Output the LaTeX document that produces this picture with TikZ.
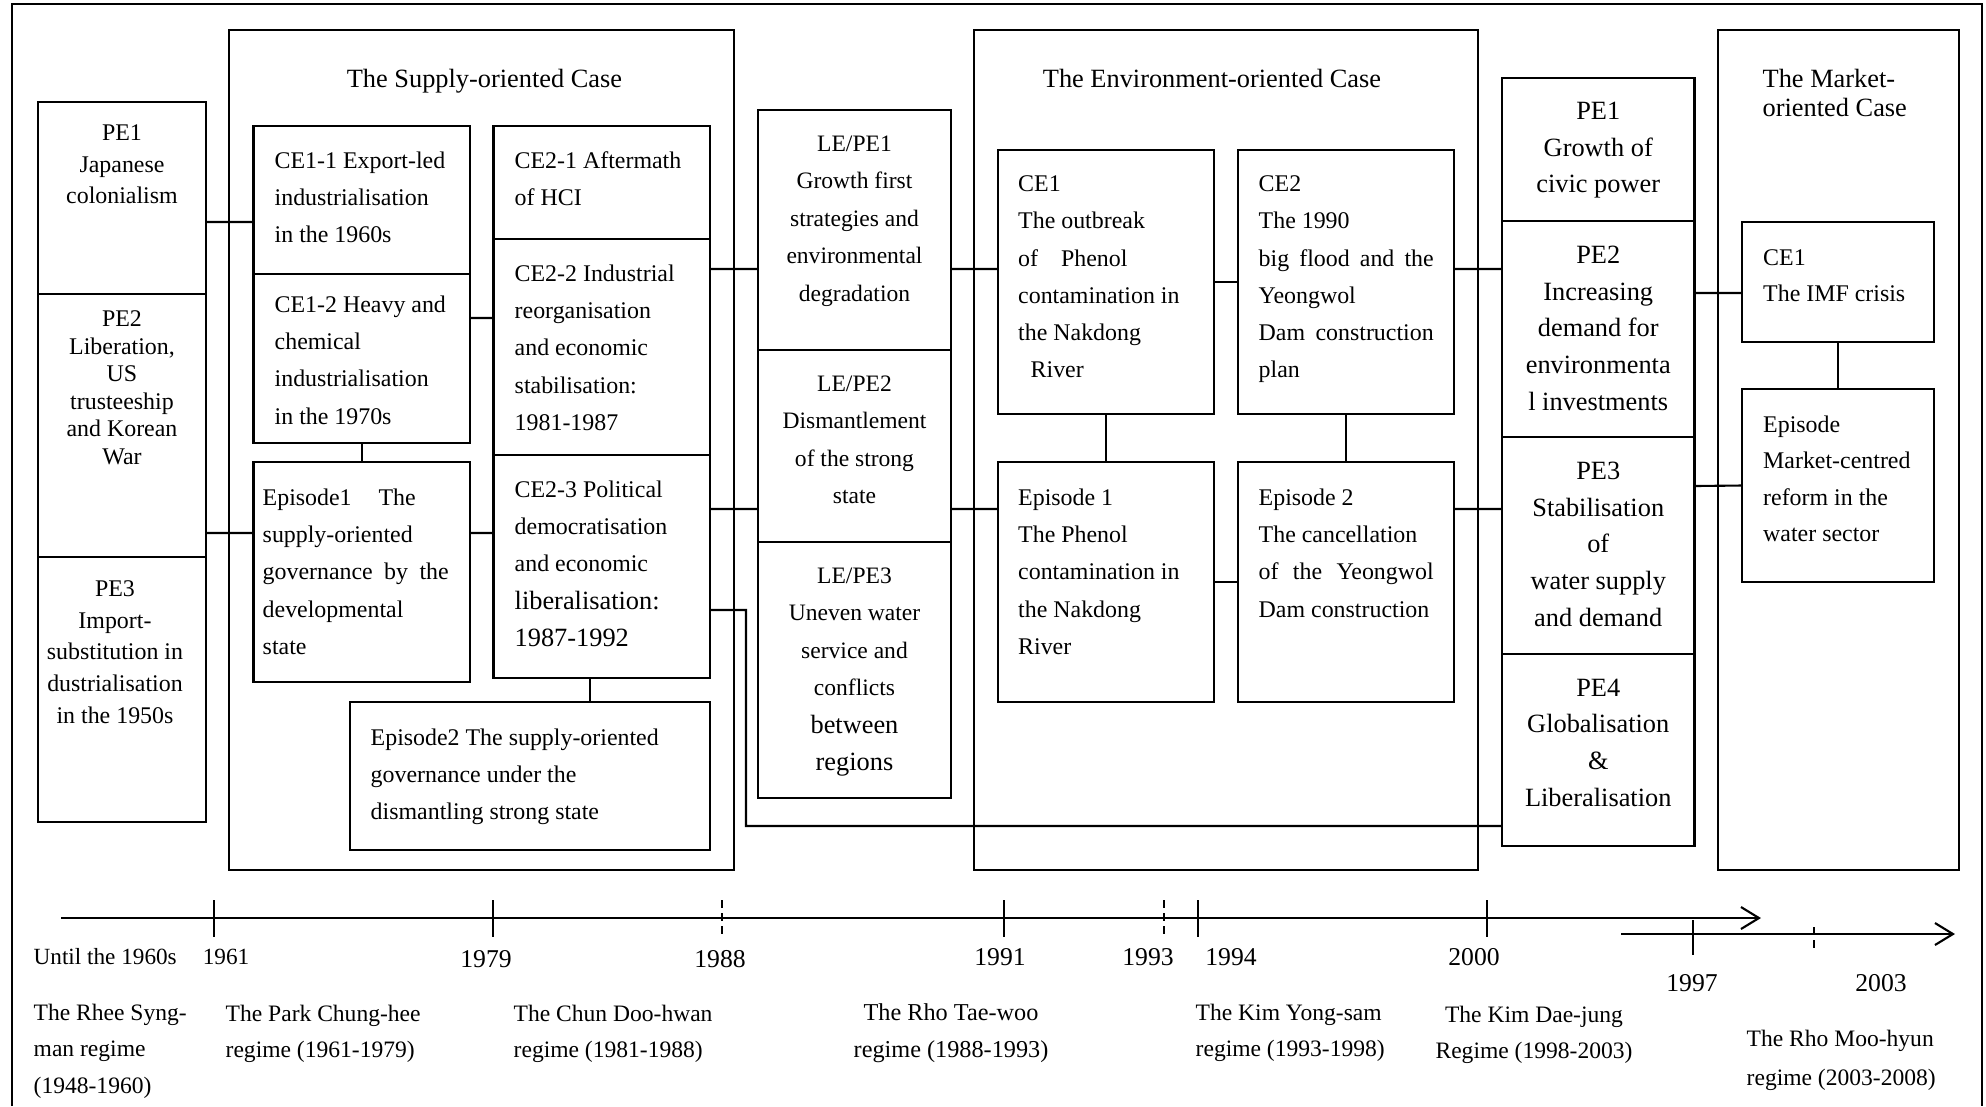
\documentclass[tikz,border=0pt]{standalone}
\usepackage{fontspec}
\setmainfont{Liberation Serif}
\usepackage{tikz}
\usetikzlibrary{arrows.meta,positioning}

\begin{document}
\begin{tikzpicture}[
      x=0.1mm, y=-0.1mm,
      case/.style={draw, line width=0.6pt, outer sep=0pt, anchor=north west},
      cell/.style={draw, line width=0.6pt, outer sep=0pt, inner sep=0pt},
      txt/.style={inner sep=0pt, align=left, font=\fontsize{6.8}{10.6}\selectfont},
      ctxt/.style={txt, align=center},
      big/.style={inner sep=0pt, align=center, font=\fontsize{7.5}{10.5}\selectfont},
      head/.style={inner sep=0pt, align=left, font=\fontsize{7.5}{8.5}\selectfont},
      link/.style={line width=0.6pt},
      axis/.style={line width=0.6pt, -{Straight Barb[length=1.8mm,width=2.2mm]}},
      tick/.style={line width=0.6pt},
      dtick/.style={tick, dash pattern=on 0.8mm off 0.5mm},
      year/.style={inner sep=0pt, font=\fontsize{7.3}{8}\selectfont},
      regime/.style={inner sep=0pt, align=left, font=\fontsize{6.7}{10.45}\selectfont}
  ]
    \useasboundingbox (0,0) rectangle (1986,1106);
    \draw[link] (12,1106) -- (12,4) -- (1982,4) -- (1982,1106);

    % background events, left
    \node[cell, anchor=north west, minimum width=16.8mm, minimum height=19.2mm] (pe1) at (38,102) {};
    \node[cell, minimum width=16.8mm, minimum height=26.3mm, below=0pt of pe1] (pe2) {};
    \node[cell, minimum width=16.8mm, minimum height=26.5mm, below=0pt of pe2] (pe3) {};
    \node[ctxt, font=\fontsize{6.8}{9}\selectfont, below=2.2mm of pe1.north] (pe1t) {PE1\\Japanese\\colonialism};
    \node[ctxt, font=\fontsize{6.8}{7.85}\selectfont, below=1.6mm of pe2.north] (pe2t) {PE2\\Liberation,\\US\\trusteeship\\and Korean\\War};
    \node[ctxt, font=\fontsize{6.8}{9}\selectfont, below=2.3mm of pe3.north, xshift=-0.7mm] (pe3t) {PE3\\Import-\\substitution in\\dustrialisation\\in the 1950s};

    % supply-oriented case
    \node[case, minimum width=50.5mm, minimum height=84mm] (supply) at (229,30) {};
    \node[head, below=3.8mm of supply.north, xshift=0.3mm] (supplyt) {The Supply-oriented Case};
    \node[cell, anchor=north west, minimum width=21.65mm, minimum height=14.8mm] (ce11) at (253.5,126) {};
    \node[cell, minimum width=21.65mm, minimum height=16.9mm, below=0pt of ce11] (ce12) {};
    \node[cell, minimum width=21.65mm, minimum height=22mm, below=1.9mm of ce12] (ep1) {};
    \node[txt, below right=2.5mm and 2.05mm of ce11.north west] (ce11t) {CE1-1 Export-led\\industrialisation\\in the 1960s};
    \node[txt, below right=2.1mm and 2.05mm of ce12.north west] (ce12t) {CE1-2 Heavy and\\chemical\\industrialisation\\in the 1970s};
    \node[txt, below right=2.6mm and 0.85mm of ep1.north west] (ep1t) {Episode1\hspace{2.7mm}The\\supply-oriented\\\makebox[18.6mm][s]{governance by the}\\developmental\\state};

    \node[cell, anchor=north west, minimum width=21.65mm, minimum height=11.3mm] (ce21) at (493.5,126) {};
    \node[cell, minimum width=21.65mm, minimum height=21.6mm, below=0pt of ce21] (ce22) {};
    \node[cell, minimum width=21.65mm, minimum height=22.3mm, below=0pt of ce22] (ce23) {};
    \node[cell, anchor=north east, minimum width=36mm, minimum height=14.8mm] (ep2) at ([yshift=-2.4mm]ce23.south east) {};
    \node[txt, below right=2.5mm and 2.05mm of ce21.north west] (ce21t) {CE2-1 Aftermath\\of HCI};
    \node[txt, below right=2.5mm and 2.05mm of ce22.north west] (ce22t) {CE2-2 Industrial\\reorganisation\\and economic\\stabilisation:\\1981-1987};
    \node[txt, below right=2.5mm and 2.05mm of ce23.north west] (ce23t) {CE2-3 Political\\democratisation\\and economic\\{\fontsize{7.5}{10.6}\selectfont liberalisation:}\\{\fontsize{7.5}{10.6}\selectfont 1987-1992}};
    \node[txt, below right=2.6mm and 2mm of ep2.north west] (ep2t) {Episode2 The supply-oriented\\governance under the\\dismantling strong state};

    % linking events
    \node[cell, anchor=north west, minimum width=19.3mm, minimum height=24mm] (le1) at (758,110) {};
    \node[cell, minimum width=19.3mm, minimum height=19.2mm, below=0pt of le1] (le2) {};
    \node[cell, minimum width=19.3mm, minimum height=25.6mm, below=0pt of le2] (le3) {};
    \node[ctxt, font=\fontsize{6.7}{10.67}\selectfont, below=2.5mm of le1.north] (le1t) {LE/PE1\\Growth first\\strategies and\\environmental\\degradation};
    \node[ctxt, font=\fontsize{6.7}{10.67}\selectfont, below=2.5mm of le2.north] (le2t) {LE/PE2\\Dismantlement\\of the strong\\state};
    \node[ctxt, font=\fontsize{6.7}{10.67}\selectfont, below=2.5mm of le3.north] (le3t) {LE/PE3\\Uneven water\\service and\\conflicts\\{\fontsize{7.5}{10.67}\selectfont between}\\{\fontsize{7.5}{10.67}\selectfont regions}};

    % environment-oriented case
    \node[case, minimum width=50.4mm, minimum height=84mm] (env) at (974,30) {};
    \node[head, below=3.8mm of env.north, xshift=-1.4mm] (envt) {The Environment-oriented Case};
    \node[cell, anchor=north west, minimum width=21.6mm, minimum height=26.4mm] (ece1) at (998,150) {};
    \node[cell, minimum width=21.6mm, minimum height=26.4mm, right=2.4mm of ece1] (ece2) {};
    \node[cell, minimum width=21.6mm, minimum height=24mm, below=4.8mm of ece1] (eep1) {};
    \node[cell, minimum width=21.6mm, minimum height=24mm, below=4.8mm of ece2] (eep2) {};
    \node[txt, below right=2.5mm and 1.95mm of ece1.north west] (ece1t) {CE1\\The outbreak\\of\hspace{2.3mm}Phenol\\contamination in\\the Nakdong\\\hspace*{1.25mm}River};
    \node[txt, below right=2.5mm and 2mm of ece2.north west] (ece2t) {CE2\\The 1990\\\makebox[17.5mm][s]{big flood and the}\\Yeongwol\\\makebox[17.5mm][s]{Dam construction}\\plan};
    \node[txt, below right=2.6mm and 1.95mm of eep1.north west] (eep1t) {Episode 1\\The Phenol\\contamination in\\the Nakdong\\River};
    \node[txt, below right=2.6mm and 2mm of eep2.north west] (eep2t) {Episode 2\\The cancellation\\\makebox[17.5mm][s]{of the Yeongwol}\\Dam construction};

    % background events, right
    \node[cell, anchor=north west, minimum width=19.25mm, minimum height=14.3mm] (rpe1) at (1502,78) {};
    \node[cell, minimum width=19.25mm, minimum height=21.6mm, below=0pt of rpe1] (rpe2) {};
    \node[cell, minimum width=19.25mm, minimum height=21.7mm, below=0pt of rpe2] (rpe3) {};
    \node[cell, minimum width=19.25mm, minimum height=19.2mm, below=0pt of rpe3] (rpe4) {};
    \node[big, below=2.3mm of rpe1.north] (rpe1t) {PE1\\Growth of\\civic power};
    \node[big, below=2.4mm of rpe2.north] (rpe2t) {PE2\\Increasing\\demand for\\environmenta\\l investments};
    \node[big, below=2.4mm of rpe3.north] (rpe3t) {PE3\\Stabilisation\\of\\water supply\\and demand};
    \node[big, below=2.4mm of rpe4.north] (rpe4t) {PE4\\Globalisation\\\&\\Liberalisation};

    % market-oriented case
    \node[case, minimum width=24.07mm, minimum height=84mm] (market) at (1718,30) {};
    \node[head, below right=3.8mm and 4.4mm of market.north west] (markett) {The Market-\\oriented Case};
    \node[cell, anchor=north west, minimum width=19.2mm, minimum height=12mm] (mce1) at (1742,222) {};
    \node[cell, minimum width=19.2mm, minimum height=19.3mm, below=4.7mm of mce1] (mep) {};
    \node[txt, font=\fontsize{6.8}{10.2}\selectfont, below right=2.7mm and 2.05mm of mce1.north west] (mce1t) {CE1\\The IMF crisis};
    \node[txt, font=\fontsize{6.8}{10.4}\selectfont, below right=2.6mm and 2.05mm of mep.north west] (mept) {Episode\\Market-centred\\reform in the\\water sector};

    % connectors
    \draw[link] ([yshift=-2.4mm]pe1.east) -- ([yshift=-2.2mm]ce11.west);
    \draw[link] ([yshift=-10.75mm]pe2.east) -- ([yshift=3.9mm]ep1.west);
    \draw[link] ([yshift=4.05mm]ce12.east) -- ([yshift=2.9mm]ce22.west);
    \draw[link] ([yshift=3.9mm]ep1.east) -- ([yshift=3.35mm]ce23.west);
    \draw[link] (ce12.south) -- (ep1.north);
    \draw[link] ([xshift=-1.2mm]ce23.south) -- ([xshift=-1.2mm]ce23.south |- ep2.north);
    \draw[link] ([yshift=7.8mm]ce22.east) -- ([yshift=-3.9mm]le1.west);
    \draw[link] ([yshift=5.75mm]ce23.east) -- ([yshift=-6.3mm]le2.west);
    \coordinate (bend) at (746,826);
    \draw[link] ([yshift=-4.35mm]ce23.east) -| (bend) -- ([yshift=-7.6mm]rpe4.west);
    \draw[link] ([yshift=-3.9mm]le1.east) -- ([yshift=1.3mm]ece1.west);
    \draw[link] ([yshift=-6.3mm]le2.east) -- ([yshift=7.3mm]eep1.west);
    \draw[link] (ece1.east) -- (ece2.west);
    \draw[link] (ece1.south) -- (eep1.north);
    \draw[link] (ece2.south) -- (eep2.north);
    \draw[link] (eep1.east) -- (eep2.west);
    \draw[link] ([yshift=1.3mm]ece2.east) -- ([yshift=6mm]rpe2.west);
    \draw[link] ([yshift=7.3mm]eep2.east) -- ([yshift=3.65mm]rpe3.west);
    \draw[link] ([yshift=3.6mm]rpe2.east) -- ([yshift=-1.1mm]mce1.west);
    \draw[link] ([yshift=5.95mm]rpe3.east) -- (mep.west);
    \draw[link] (mce1.south) -- (mep.north);

    % time line
    \coordinate (tl0) at (61,918);
    \coordinate (tl1) at (1761,918);
    \coordinate (tr0) at (1621,934);
    \coordinate (tr1) at (1955,934);
    \draw[axis] (tl0) -- (tl1);
    \draw[axis] (tr0) -- (tr1);
    \foreach \tx in {214,493,1004,1198,1487}
      \draw[tick] (\tx,900) -- (\tx,937);
    \foreach \tx in {722,1164}
      \draw[dtick] (\tx,900) -- (\tx,937);
    \draw[tick] (1693,920) -- (1693,955);
    \draw[dtick] (1814,927) -- (1814,952);

    \node[year, font=\fontsize{6.6}{8}\selectfont, anchor=west] (until) at (33,957) {Until the 1960s};
    \node[year, font=\fontsize{6.6}{8}\selectfont] (y1961) at (226,957) {1961};
    \node[year] (y1979) at (486,959) {1979};
    \node[year] (y1988) at (720,959) {1988};
    \node[year] (y1991) at (1000,957) {1991};
    \node[year] (y1993) at (1148,957) {1993};
    \node[year] (y1994) at (1231,957) {1994};
    \node[year] (y2000) at (1474,957) {2000};
    \node[year] (y1997) at (1692,983) {1997};
    \node[year] (y2003) at (1881,983) {2003};

    \node[regime, anchor=north west] (rhee) at (33,1003) {The Rhee Syng-\\man regime\\(1948-1960)};
    \node[regime, anchor=north west] (park) at (225,1004) {The Park Chung-hee\\regime (1961-1979)};
    \node[regime, anchor=north west] (chun) at (513,1004) {The Chun Doo-hwan\\regime (1981-1988)};
    \node[regime, align=center, font=\fontsize{6.9}{10.45}\selectfont, anchor=north] (rhotw) at (951,1003) {The Rho Tae-woo\\regime (1988-1993)};
    \node[regime, anchor=north west] (kimys) at (1195,1003) {The Kim Yong-sam\\regime (1993-1998)};
    \node[regime, align=center, anchor=north] (kimdj) at (1534,1005) {The Kim Dae-jung\\Regime (1998-2003)};
    \node[regime, font=\fontsize{6.7}{11.2}\selectfont, anchor=north west] (rhomh) at (1746,1029) {The Rho Moo-hyun\\regime (2003-2008)};
  \end{tikzpicture}
\end{document}
